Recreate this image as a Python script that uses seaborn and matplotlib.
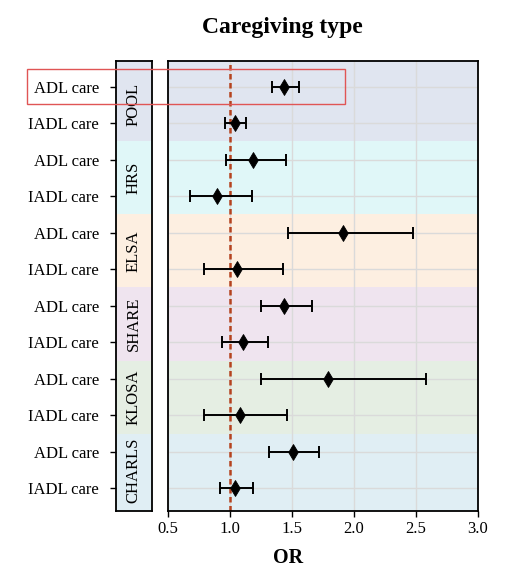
import numpy as np
import pandas as pd
import matplotlib
matplotlib.use("Agg")
import matplotlib.pyplot as plt
import matplotlib.transforms as mtransforms
from matplotlib.patches import Rectangle
import seaborn as sns

# Datos
cohorts = ["POOL", "HRS", "ELSA", "SHARE", "KLOSA", "CHARLS"]
care_types = ["ADL care", "IADL care"]
or_vals = [1.44, 1.04, 1.19, 0.90, 1.91, 1.06, 1.44, 1.11, 1.79, 1.08, 1.51, 1.04]
ci_low = [1.34, 0.96, 0.97, 0.68, 1.47, 0.79, 1.25, 0.94, 1.25, 0.79, 1.32, 0.92]
ci_high = [1.56, 1.13, 1.45, 1.18, 2.48, 1.43, 1.66, 1.31, 2.58, 1.46, 1.72, 1.19]
band_colors = ["#e0e5f0", "#e0f7f8", "#fdefe1", "#efe4ef", "#e5eee3", "#e0eef4"]
x_ticks = [0.5, 1.0, 1.5, 2.0, 2.5, 3.0]

df = pd.DataFrame({
    "cohort": np.repeat(cohorts, len(care_types)),
    "tipo": care_types * len(cohorts),
    "OR": or_vals,
    "lo": ci_low,
    "hi": ci_high,
})
df["pos"] = np.arange(len(df))

sns.set_theme(style="whitegrid")
plt.rcParams["font.family"] = ["Liberation Serif", "DejaVu Serif"]
for k in ["text.color", "xtick.color", "ytick.color", "axes.labelcolor"]:
    plt.rcParams[k] = "black"

fig = plt.figure(figsize=(5.27, 5.79), dpi=100)
W, H = 527, 579
top, bottom = 61, 511
ax_strip = fig.add_axes([115.7 / W, 1 - bottom / H, 36 / W, (bottom - top) / H])
ax = fig.add_axes([167.7 / W, 1 - bottom / H, 310 / W, (bottom - top) / H])

ylim = (11.62, -0.70)
n = len(care_types)
for i, (c, col) in enumerate(zip(cohorts, band_colors)):
    y0 = i * n - 0.5 if i > 0 else ylim[1]
    y1 = i * n + n - 0.5 if i < len(cohorts) - 1 else ylim[0]
    for a in (ax, ax_strip):
        a.axhspan(y0, y1, color=col, zorder=0, lw=0)
    ax_strip.text(0.5, i * n + (n - 1) / 2, c, rotation=90, ha="center", va="center",
                  fontsize=12, transform=mtransforms.blended_transform_factory(ax_strip.transAxes, ax_strip.transData))

# Intervalos y puntos
ax.errorbar(df["OR"], df["pos"], xerr=[df["OR"] - df["lo"], df["hi"] - df["OR"]],
            fmt="none", ecolor="black", elinewidth=1.4, capsize=4.5, capthick=1.4, zorder=3)
sns.scatterplot(data=df, x="OR", y="pos", marker="d", s=65, color="black",
                edgecolor="black", ax=ax, zorder=4, legend=False)
ax.axvline(1.0, color="#b5431f", ls=(0, (2.2, 1.4)), lw=1.8, zorder=2)

ax.set_xlim(0.5, 3.0)
ax.set_ylim(*ylim)
ax.set_xticks(x_ticks)
ax.set_xticklabels([f"{t:.1f}" for t in x_ticks], fontsize=12)
ax.set_yticks(df["pos"])
ax.set_yticklabels([])
ax.tick_params(axis="y", length=0)
ax.tick_params(axis="x", length=4, width=1, color="black", pad=3, direction="out", bottom=True)
ax.set_xlabel("")
ax.set_ylabel("")
ax.grid(True, color="#dadada", lw=1)
ax.set_axisbelow(True)
for s in ax.spines.values():
    s.set_color("black")
    s.set_linewidth(1.3)

ax_strip.set_xlim(0, 1)
ax_strip.set_ylim(*ylim)
ax_strip.set_xticks([])
ax_strip.set_yticks(df["pos"])
ax_strip.set_yticklabels(df["tipo"], fontsize=12)
ax_strip.tick_params(axis="y", length=4, width=1, color="black", pad=8, left=True)
ax_strip.grid(False)
for s in ax_strip.spines.values():
    s.set_color("black")
    s.set_linewidth(1.3)

fig.text(282 / W, 1 - 27 / H, "Caregiving type", ha="center", va="center",
         fontsize=17, fontweight="bold")
fig.text(288 / W, 1 - 558 / H, "OR", ha="center", va="center",
         fontsize=14.5, fontweight="bold")

# Recuadro resaltado en la primera fila
trans = mtransforms.blended_transform_factory(fig.transFigure, ax.transData)
fig.patches.append(Rectangle((27 / W, -0.47), (345 - 27) / W, 0.94, transform=trans,
                             fill=False, edgecolor="#e05555", lw=1.0, zorder=10))

fig.savefig("out.png", dpi=100)
